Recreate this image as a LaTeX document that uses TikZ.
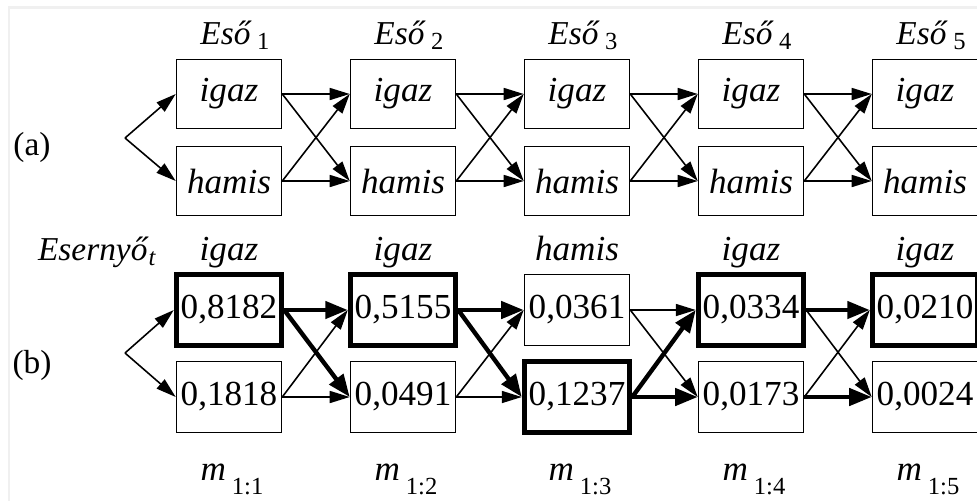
\documentclass[tikz,border=0pt]{standalone}
\usepackage{fontspec}
\setmainfont{Liberation Serif}
\usetikzlibrary{arrows.meta}

% lowered subscript, size 14pt
\newcommand{\lowsub}[2][3pt]{\raisebox{-#1}{\fontsize{14}{16}\selectfont #2}}

\tikzset{
  state/.style={draw, line width=0.9pt, minimum width=2.1cm, minimum height=1.38cm, inner sep=0pt, font=\fontsize{20}{22}\selectfont},
  best/.style={state, line width=3.1pt, minimum height=1.42cm},
  plain/.style={state, minimum height=1.42cm},
  link/.style={line width=0.9pt, -{Triangle[length=0.4cm,width=0.24cm]}},
  heavy/.style={line width=2.5pt, -{Triangle[length=0.45cm,width=0.34cm]}},
  lbl/.style={font=\fontsize{19}{21}\selectfont, inner sep=0pt, anchor=base},
}

\begin{document}
\begin{tikzpicture}[x=0.02cm, y=-0.02cm]
\useasboundingbox (0,0) rectangle (977,501);

% screenshot frame
\draw[gray!12, line width=0.06cm] (9,501) -- (9,7) -- (977,7);

% (a) state boxes, columns at 229 + 174 k
\foreach \c/\x in {1/229, 2/403, 3/577, 4/751, 5/925}{
  \node[state] (at\c) at (\x, 94) {\textit{igaz}};
  \node[state] (af\c) at (\x, 181) {\textit{hamis}};
  \node[lbl] (eso\c) at (\x+6, 44) {\textit{Eső}\,\lowsub{\c}};
}
\node[font=\fontsize{19}{21}\selectfont] (la) at (32, 147) {(a)};

% (a) transitions
\foreach \c [evaluate=\c as \n using int(\c+1)] in {1,...,4}{
  \draw[link] (at\c.east) -- (at\n.west);
  \draw[link] (at\c.east) -- (af\n.west);
  \draw[link] (af\c.east) -- (at\n.west);
  \draw[link] (af\c.east) -- (af\n.west);
}
\coordinate (forka) at (125, 138);
\draw[link] (forka) -- (at1.west);
\draw[link] (forka) -- (af1.west);

% (b) messages: top = igaz, bottom = hamis
\node[lbl] (umb) at (97, 260) {\textit{Esernyő}\lowsub{\textit{t}}};
\foreach \c/\x/\tv/\bv/\ts/\bs/\obs in {
  1/229/0{,}8182/0{,}1818/best/plain/igaz,
  2/403/0{,}5155/0{,}0491/best/plain/igaz,
  3/577/0{,}0361/0{,}1237/plain/best/hamis,
  4/751/0{,}0334/0{,}0173/best/plain/igaz,
  5/925/0{,}0210/0{,}0024/best/plain/igaz
}{
  \node[\ts] (bt\c) at (\x, 310) {\tv};
  \node[\bs] (bb\c) at (\x, 397) {\bv};
  \node[lbl, font=\fontsize{20}{22}\selectfont] (obs\c) at (\x, 260) {\textit{\obs}};
  \node[lbl, font=\fontsize{20}{22}\selectfont] (msg\c) at (\x+3, 480) {\textit{m}\,\lowsub[8pt]{1:\c}};
}
\node[font=\fontsize{19}{21}\selectfont] (lb) at (32, 365) {(b)};

% (b) transitions, thin first
\foreach \u/\v in {bb1/bt2, bb1/bb2, bb2/bt3, bb2/bb3, bt3/bt4, bt3/bb4, bt4/bb5, bb4/bt5}
  \draw[link] (\u.east) -- (\v.west);
\foreach \u/\v in {bt1/bt2, bt1/bb2, bt2/bt3, bt2/bb3, bb3/bt4, bb3/bb4, bt4/bt5, bb4/bb5}
  \draw[heavy] (\u.east) -- (\v.west);
\coordinate (forkb) at (125, 353);
\draw[link] (forkb) -- (bt1.west);
\draw[link] (forkb) -- (bb1.west);
\end{tikzpicture}
\end{document}
